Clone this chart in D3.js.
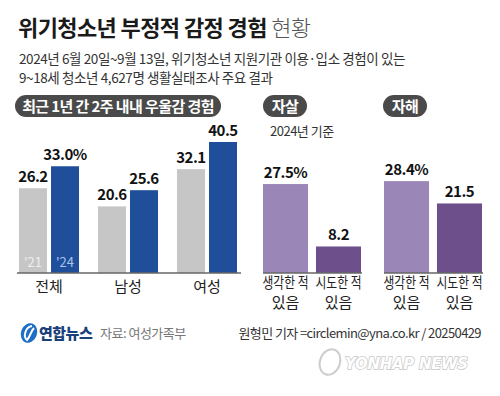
<!DOCTYPE html>
<html>
<head>
<meta charset="utf-8">
<script src="https://cdn.jsdelivr.net/npm/d3@7"></script>
<style>
  body { margin: 0; background: #fff; }
  svg { display: block; font-family: "Noto Sans CJK KR", "Noto Sans", sans-serif; }
</style>
</head>
<body>
<svg id="chart" width="500" height="396"></svg>
<script>
// data
const groups = ["전체", "남성", "여성"];
const years = ["'21", "'24"];
const rate2021 = [26.2, 20.6, 32.1];
const rate2024 = [33.0, 25.6, 40.5];
const suicide = [27.5, 8.2];
const selfHarm = [28.4, 21.5];
const actLabels = [["생각한 적", "있음"], ["시도한 적", "있음"]];

const svg = d3.select("#chart");
const baseY = 273;

// shared value scale
const y = d3.scaleLinear().domain([0, 40.5]).range([baseY, 142]);

// title
const title = svg.append("text").attr("x", 18).attr("y", 36)
    .attr("font-size", 22).attr("letter-spacing", -0.6).attr("fill", "#1a1a1a");
title.append("tspan").attr("font-weight", 700).text("위기청소년 부정적 감정 경험");
title.append("tspan").attr("font-weight", 300).attr("fill", "#555").text(" 현황");

svg.append("text").attr("x", 19).attr("y", 64).attr("font-size", 13.5)
    .attr("letter-spacing", -0.4).attr("fill", "#333")
    .text("2024년 6월 20일~9월 13일, 위기청소년 지원기관 이용·입소 경험이 있는");
svg.append("text").attr("x", 19).attr("y", 83).attr("font-size", 13.5)
    .attr("letter-spacing", -0.4).attr("fill", "#333")
    .text("9~18세 청소년 4,627명 생활실태조사 주요 결과");

function pill(x, w, label, fs) {
    svg.append("rect").attr("x", x).attr("y", 95).attr("width", w).attr("height", 22)
        .attr("rx", 11).attr("fill", "#4a4a4a");
    svg.append("text").attr("x", x + w / 2).attr("y", 111.5).attr("text-anchor", "middle")
        .attr("font-size", fs).attr("font-weight", 700).attr("letter-spacing", -0.6)
        .attr("fill", "#fff").text(label);
}
pill(15, 206, "최근 1년 간 2주 내내 우울감 경험", 15);
pill(263, 44, "자살", 15);
pill(383, 44, "자해", 15);

svg.append("text").attr("x", 270).attr("y", 136).attr("font-size", 13)
    .attr("letter-spacing", -0.5).attr("fill", "#333").text("2024년 기준");

// left panel: depression
const x0 = d3.scaleBand().domain(groups).range([19, 237]).paddingInner(0.24);
const x1 = d3.scaleBand().domain(years).range([0, x0.bandwidth()]).paddingInner(0.125);
const colors = { "'21": "#c6c6c6", "'24": "#1f4e9b" };

const rows = groups.map((g, i) => ({ g, vals: [
    { yr: "'21", v: rate2021[i] }, { yr: "'24", v: rate2024[i] }] }));

const grp = svg.selectAll("g.grp").data(rows).enter().append("g")
    .attr("transform", d => `translate(${x0(d.g)},0)`);

grp.selectAll("rect").data(d => d.vals).enter().append("rect")
    .attr("x", d => x1(d.yr)).attr("y", d => y(d.v))
    .attr("width", x1.bandwidth()).attr("height", d => baseY - y(d.v))
    .attr("fill", d => colors[d.yr]);

grp.selectAll("text.val").data((d, i) => d.vals.map(v => ({ ...v, first: i === 0 })))
    .enter().append("text")
    .attr("x", d => x1(d.yr) + x1.bandwidth() / 2).attr("y", d => y(d.v) - 6)
    .attr("text-anchor", "middle").attr("font-size", 15).attr("font-weight", 600)
    .attr("letter-spacing", -0.5).attr("fill", "#111")
    .text(d => d.v.toFixed(1) + (d.first && d.yr === "'24" ? "%" : ""));

svg.append("g").attr("transform", `translate(${x0(groups[0])},0)`)
    .selectAll("text").data(years).enter().append("text")
    .attr("x", d => x1(d) + x1.bandwidth() / 2).attr("y", 267)
    .attr("text-anchor", "middle").attr("font-size", 13)
    .attr("fill", d => d === "'21" ? "#eeeeee" : "#a9c4ee").text(d => d);

svg.append("line").attr("x1", 17).attr("x2", 241).attr("y1", baseY).attr("y2", baseY)
    .attr("stroke", "#666").attr("stroke-width", 1.5);

svg.selectAll("text.cat").data(groups).enter().append("text")
    .attr("x", d => x0(d) + x0.bandwidth() / 2).attr("y", 292)
    .attr("text-anchor", "middle").attr("font-size", 15).attr("fill", "#222").text(d => d);

// right panels: suicide / self-harm
const purples = ["#9b86b8", "#6c4f8b"];
function panel(vals, r0, r1) {
    const xs = d3.scaleBand().domain([0, 1]).range([r0, r1]).paddingInner(0.15);
    const g = svg.append("g");
    g.selectAll("rect").data(vals).enter().append("rect")
        .attr("x", (d, i) => xs(i)).attr("y", d => y(d))
        .attr("width", xs.bandwidth()).attr("height", d => baseY - y(d))
        .attr("fill", (d, i) => purples[i]);
    g.selectAll("text.val").data(vals).enter().append("text")
        .attr("x", (d, i) => xs(i) + xs.bandwidth() / 2).attr("y", d => y(d) - 6)
        .attr("text-anchor", "middle").attr("font-size", 15).attr("font-weight", 600)
        .attr("letter-spacing", -0.5).attr("fill", "#111")
        .text((d, i) => d.toFixed(1) + (i === 0 ? "%" : ""));
    g.append("line").attr("x1", r0).attr("x2", r1 + 1).attr("y1", baseY).attr("y2", baseY)
        .attr("stroke", "#666").attr("stroke-width", 1.5);
    actLabels.forEach((lines, i) => {
        lines.forEach((t, k) => {
            const txt = g.append("text").attr("x", xs(i) + xs.bandwidth() / 2).attr("y", 288 + k * 20)
                .attr("text-anchor", "middle").attr("font-size", 15)
                .attr("fill", "#222").text(t);
            if (k === 0) txt.attr("textLength", 46).attr("lengthAdjust", "spacingAndGlyphs");
        });
    });
}
panel(suicide, 263, 361);
panel(selfHarm, 384, 482);

// footer
const logo = svg.append("g").attr("transform", "translate(29,333)");
logo.append("ellipse").attr("rx", 8).attr("ry", 10).attr("transform", "rotate(20)")
    .attr("fill", "#1d6fc6");
logo.append("path").attr("d", "M3,-7 C-4,-6 -6,4 -2,7 C1,4 2,-2 5,-5")
    .attr("fill", "none").attr("stroke", "#fff").attr("stroke-width", 2);
svg.append("text").attr("x", 39).attr("y", 339).attr("font-size", 15).attr("font-weight", 900)
    .attr("letter-spacing", -0.5).attr("fill", "#1b3f7a").text("연합뉴스");
svg.append("text").attr("x", 100).attr("y", 338).attr("font-size", 13)
    .attr("letter-spacing", -0.5).attr("fill", "#777").text("자료: 여성가족부");
svg.append("text").attr("x", 481).attr("y", 338).attr("text-anchor", "end").attr("font-size", 13)
    .attr("letter-spacing", -0.6).attr("fill", "#333")
    .text("원형민 기자 =circlemin@yna.co.kr / 20250429");

// watermark
const wm = svg.append("g").attr("opacity", 0.9);
wm.append("ellipse").attr("cx", 330).attr("cy", 362).attr("rx", 10).attr("ry", 13)
    .attr("transform", "rotate(20,330,362)").attr("fill", "#fff")
    .attr("stroke", "#c8c8c8").attr("stroke-width", 2);
wm.append("text").attr("x", 345).attr("y", 369).attr("font-family", "DejaVu Sans")
    .attr("font-size", 15).attr("font-weight", 700).attr("font-style", "italic")
    .attr("letter-spacing", -0.3)
    .attr("fill", "#fff").attr("stroke", "#c4c4c4")
    .attr("stroke-width", 1.5).attr("paint-order", "stroke").text("YONHAP NEWS");
</script>
</body>
</html>
